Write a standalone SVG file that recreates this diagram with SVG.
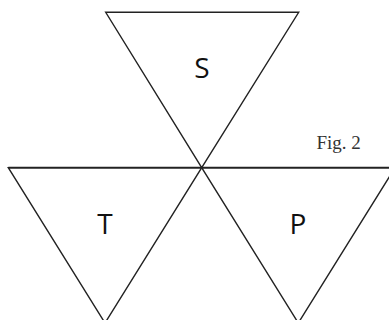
<svg xmlns="http://www.w3.org/2000/svg" width="389" height="320" viewBox="0 0 389 320">
<style>
.tri{fill:none;stroke:#222;stroke-width:1.4;stroke-linejoin:miter}
.lbl{font-family:"Open Sans","Liberation Sans",sans-serif;font-size:28px;fill:#111;text-anchor:middle}
.fig{font-family:"Liberation Serif",serif;font-size:19px;fill:#333}
</style>
<rect width="389" height="320" fill="#fff"/>
<g id="S">
<polygon class="tri" points="105.7,12.3 298.7,12.3 201.7,167.7"/>
<text class="lbl" x="202" y="78.3">S</text>
</g>
<g id="T">
<polygon class="tri" points="8.3,167.7 201.7,167.7 105,323"/>
<text class="lbl" x="105" y="233.5">T</text>
</g>
<g id="P">
<polygon class="tri" points="201.7,167.7 395,167.7 298.3,323"/>
<text class="lbl" x="298" y="233.5">P</text>
</g>
<g id="connectors">
<line x1="8.3" y1="167.7" x2="389" y2="167.7" stroke="#222" stroke-width="1.8"/>
</g>
<text class="fig" x="316.5" y="149">Fig. 2</text>
</svg>
